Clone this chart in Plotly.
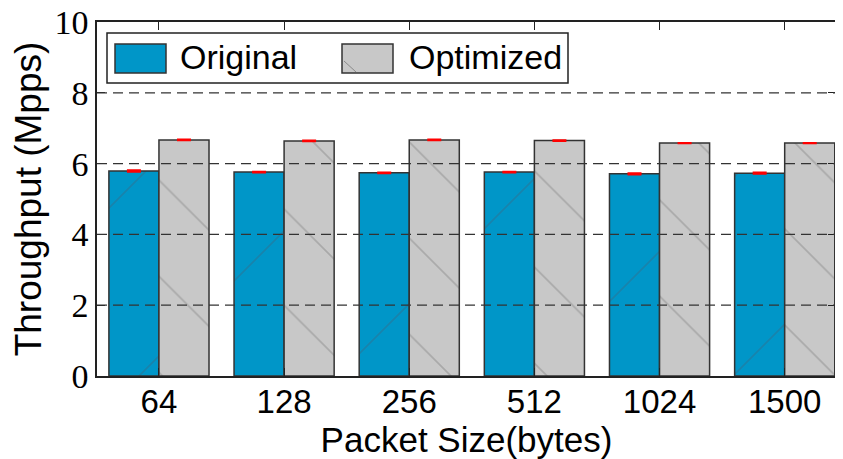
import plotly.graph_objects as go

categories = ["64", "128", "256", "512", "1024", "1500"]
original = [5.79, 5.76, 5.74, 5.76, 5.71, 5.73]
optimized = [6.67, 6.64, 6.67, 6.65, 6.58, 6.58]
original_err = [0.02, 0.01, 0.01, 0.01, 0.02, 0.02]
optimized_err = [0.01, 0.01, 0.01, 0.01, 0.005, 0.005]
y_ticks = [0, 2, 4, 6, 8, 10]
grid_vals = [2, 4, 6, 8]

idx = list(range(len(categories)))
bar_w = 0.4

fig = go.Figure()
fig.add_trace(go.Bar(
    x=[i - bar_w / 2 for i in idx], y=original, width=bar_w, name="Original",
    marker=dict(color="#0096c8", line=dict(color="#333333", width=1.5),
                pattern=dict(shape="/", size=140, solidity=0.012, fgcolor="#2f6f8f")),
    error_y=dict(type="data", array=original_err, color="red", thickness=2, width=7),
    showlegend=False,
))
fig.add_trace(go.Bar(
    x=[i + bar_w / 2 for i in idx], y=optimized, width=bar_w, name="Optimized",
    marker=dict(color="#c8c8c8", line=dict(color="#333333", width=1.5),
                pattern=dict(shape="\\", size=68, solidity=0.025, fgcolor="#8a8a8a")),
    error_y=dict(type="data", array=optimized_err, color="red", thickness=2, width=7),
    showlegend=False,
))

shapes = []
for g in grid_vals:
    shapes.append(dict(type="line", xref="paper", yref="y", x0=0, x1=1, y0=g, y1=g,
                       line=dict(color="#333333", width=1.2, dash="10px,6px"), layer="above"))

# page body has an 8px margin; convert reference pixel positions to paper fractions
def px_x(x):
    return (x - 97) / 739.0

def px_y(y):
    return (376 - y) / 354.0

# legend box
shapes.append(dict(type="rect", xref="paper", yref="paper",
                   x0=px_x(107), x1=px_x(568), y0=px_y(83), y1=px_y(33),
                   line=dict(color="#222222", width=1.5), fillcolor="white", layer="above"))
shapes.append(dict(type="rect", xref="paper", yref="paper",
                   x0=px_x(115), x1=px_x(166), y0=px_y(73), y1=px_y(44),
                   line=dict(color="#333333", width=1.5), fillcolor="#0096c8", layer="above"))
shapes.append(dict(type="rect", xref="paper", yref="paper",
                   x0=px_x(342), x1=px_x(393), y0=px_y(73), y1=px_y(44),
                   line=dict(color="#333333", width=1.5), fillcolor="#c8c8c8", layer="above"))
shapes.append(dict(type="line", xref="paper", yref="paper",
                   x0=px_x(344), x1=px_x(356), y0=px_y(61), y1=px_y(72),
                   line=dict(color="#8a8a8a", width=1), layer="above"))

annotations = [
    dict(text="Original", xref="paper", yref="paper", x=px_x(178), y=px_y(57),
         xanchor="left", yanchor="middle", showarrow=False,
         font=dict(family="Liberation Sans, Arial", size=34, color="black")),
    dict(text="Optimized", xref="paper", yref="paper", x=px_x(407), y=px_y(57),
         xanchor="left", yanchor="middle", showarrow=False,
         font=dict(family="Liberation Sans, Arial", size=34, color="black")),
]

fig.update_layout(
    width=835, height=451,
    margin=dict(l=89, r=7, t=14, b=83),
    paper_bgcolor="white", plot_bgcolor="white",
    barmode="overlay",
    shapes=shapes, annotations=annotations,
    xaxis=dict(
        range=[-0.495, 5.41], tickmode="array", tickvals=idx, ticktext=categories,
        automargin=False,
        showgrid=False, zeroline=False, showline=True, linecolor="#222222", linewidth=1.5,
        mirror="allticks", ticks="inside", ticklen=8, tickcolor="#222222",
        ticklabelstandoff=-4, ticklabeloverflow="allow",
        tickfont=dict(family="Liberation Sans, Arial", size=33, color="black"),
        title=dict(text="Packet Size(bytes)", standoff=0,
                   font=dict(family="Liberation Sans, Arial", size=35, color="black")),
    ),
    yaxis=dict(
        range=[0, 10], tickmode="array", tickvals=y_ticks,
        automargin=False,
        showgrid=False, zeroline=False, showline=True, linecolor="#222222", linewidth=1.5,
        mirror="allticks", ticks="inside", ticklen=8, tickcolor="#222222",
        ticklabeloverflow="allow",
        tickfont=dict(family="Liberation Serif, Times New Roman", size=34, color="black"),
        title=dict(text="Throughput (Mpps)", standoff=4,
                   font=dict(family="Liberation Sans, Arial", size=37, color="black")),
    ),
)

fig.write_html("out.html")
